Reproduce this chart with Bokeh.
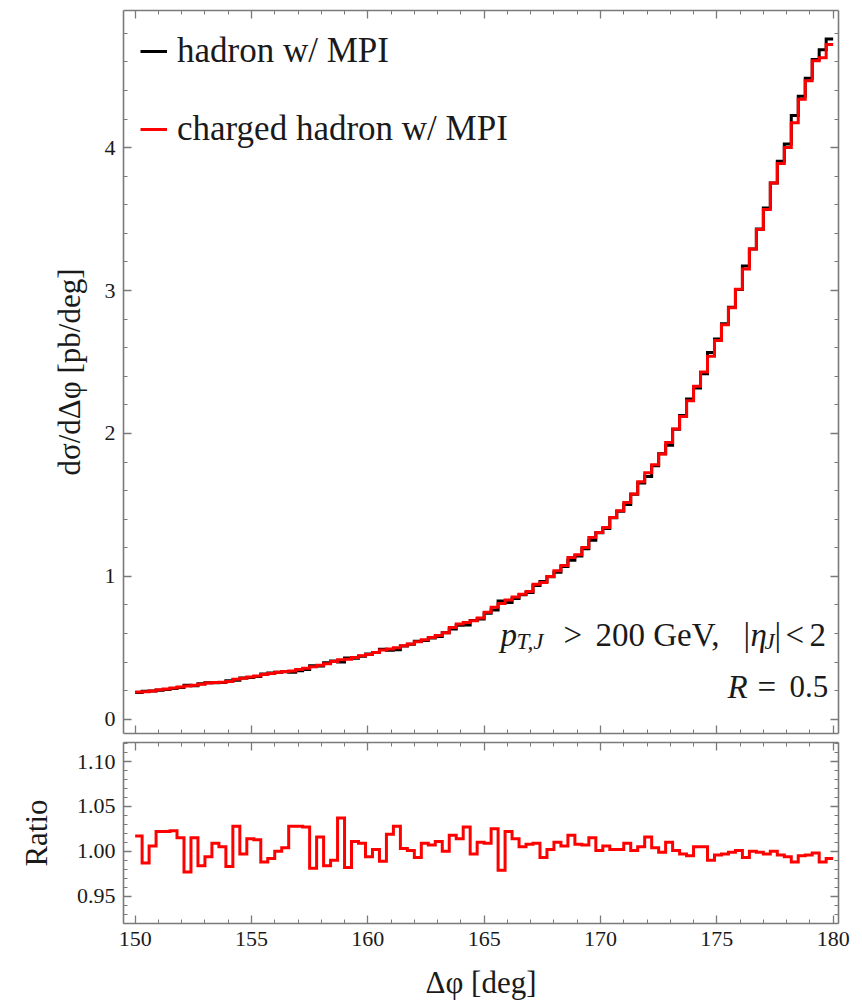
from bokeh.plotting import figure
from bokeh.models import (Range1d, LinearAxis, SingleIntervalTicker, PrintfTickFormatter,
                          CustomJSTickFormatter, Legend, LegendItem, Label)
from bokeh.layouts import column
from bokeh.embed import file_html
from bokeh.resources import INLINE

# ---------------- data ----------------
bin_start = 150.0
bin_width = 0.3

# charged hadron w/ MPI, d sigma / d Delta phi [pb/deg], 100 bins of 0.3 deg
charged = [
    0.191, 0.193, 0.198, 0.207, 0.212, 0.219, 0.226, 0.233, 0.238, 0.245,
    0.254, 0.257, 0.259, 0.264, 0.280, 0.287, 0.296, 0.303, 0.313, 0.320,
    0.329, 0.334, 0.338, 0.348, 0.357, 0.367, 0.378, 0.388, 0.404, 0.416,
    0.420, 0.432, 0.444, 0.453, 0.467, 0.484, 0.491, 0.500, 0.514, 0.526,
    0.542, 0.556, 0.572, 0.586, 0.605, 0.642, 0.666, 0.677, 0.689, 0.708,
    0.748, 0.783, 0.810, 0.835, 0.856, 0.875, 0.894, 0.945, 0.957, 0.999,
    1.039, 1.076, 1.132, 1.151, 1.202, 1.272, 1.307, 1.342, 1.412, 1.459,
    1.517, 1.576, 1.662, 1.725, 1.781, 1.856, 1.937, 2.031, 2.119, 2.229,
    2.330, 2.430, 2.540, 2.650, 2.760, 2.880, 3.010, 3.150, 3.290, 3.428,
    3.567, 3.753, 3.889, 4.002, 4.174, 4.338, 4.468, 4.608, 4.629, 4.722,
]

# ratio charged / hadron
ratio = [
    1.017, 0.987, 1.006, 1.022, 1.022, 1.023, 1.015, 0.977, 1.015, 0.984,
    0.994, 1.009, 1.005, 0.983, 1.028, 0.997, 1.014, 1.013, 0.988, 0.992,
    1.000, 1.004, 1.028, 1.028, 1.027, 0.981, 1.016, 0.984, 0.990, 1.037,
    0.982, 1.011, 1.009, 0.994, 1.002, 0.989, 1.019, 1.028, 1.003, 1.001,
    0.993, 1.009, 1.007, 1.011, 1.000, 1.018, 1.014, 1.027, 0.997, 1.010,
    1.009, 1.025, 0.979, 1.022, 1.014, 1.005, 1.008, 1.009, 0.993, 1.002,
    1.010, 1.006, 1.018, 1.008, 1.007, 1.015, 1.001, 1.006, 1.002, 1.002,
    1.009, 1.001, 1.005, 1.016, 1.004, 0.999, 1.010, 1.001, 0.997, 0.995,
    1.005, 1.005, 0.990, 0.996, 0.997, 0.999, 1.001, 0.993, 1.000, 0.999,
    0.997, 1.000, 0.996, 0.994, 0.988, 0.995, 0.996, 0.998, 0.988, 0.992,
]

hadron = [c / r for c, r in zip(charged, ratio)]

x_ticks_interval = 5
legend_labels = ["hadron w/ MPI", "charged hadron w/ MPI"]

# ---------------- helpers ----------------
n = len(charged)
edges = [bin_start + bin_width * i for i in range(n + 1)]
xs = edges
ys_h = hadron + [hadron[-1]]
ys_c = charged + [charged[-1]]
ys_r = ratio + [ratio[-1]]

FONT = "Liberation Serif"
AX = "#7a7a7a"
TXT = "#1a1a1a"


def style_axis(ax, interval, show_labels, fmt=None):
    ax.ticker = SingleIntervalTicker(interval=interval, num_minor_ticks=5)
    ax.axis_line_color = AX
    ax.axis_line_width = 1.6
    ax.major_tick_line_color = AX
    ax.minor_tick_line_color = AX
    ax.major_tick_line_width = 1.3
    ax.minor_tick_line_width = 1.0
    ax.major_tick_in = 8
    ax.major_tick_out = 0
    ax.minor_tick_in = 4
    ax.minor_tick_out = 0
    ax.major_label_text_font = FONT
    ax.axis_label_text_font = FONT
    ax.axis_label_text_font_style = "normal"
    ax.axis_label_text_color = TXT
    if show_labels:
        if fmt is not None:
            ax.formatter = fmt
        ax.major_label_text_color = TXT
        ax.major_label_text_font_size = "22px"
        ax.major_label_standoff = 8
    else:
        ax.formatter = CustomJSTickFormatter(code="return ''")
        ax.major_label_text_color = None
        ax.major_label_text_font_size = "1px"
        ax.major_label_standoff = 0


x_range = Range1d(149.5, 180.23)

# ---------------- main panel ----------------
p1 = figure(width=854, height=738, x_range=x_range, y_range=Range1d(-0.10, 4.96),
            output_backend="svg", toolbar_location=None,
            min_border_left=123, min_border_right=16, min_border_top=10, min_border_bottom=5)
p1.outline_line_color = None
p1.grid.grid_line_color = None
p1.background_fill_color = "white"

style_axis(p1.xaxis[0], x_ticks_interval, False)
style_axis(p1.yaxis[0], 1, True)
p1.yaxis[0].axis_label = "dσ/dΔφ [pb/deg]"
p1.yaxis[0].axis_label_text_font_size = "31px"
p1.yaxis[0].axis_label_standoff = 15

top1 = LinearAxis()
style_axis(top1, x_ticks_interval, False)
p1.add_layout(top1, "above")
right1 = LinearAxis()
style_axis(right1, 1, False)
p1.add_layout(right1, "right")

r_h = p1.step(xs, ys_h, mode="after", line_color="black", line_width=3, line_join="miter")
r_c = p1.step(xs, ys_c, mode="after", line_color="#ff0000", line_width=3, line_join="miter")

legend = Legend(items=[LegendItem(label=legend_labels[0], renderers=[r_h]),
                       LegendItem(label=legend_labels[1], renderers=[r_c])],
                location="top_left", margin=17, padding=7, spacing=30,
                glyph_height=48, label_height=48, glyph_width=27, label_standoff=10,
                label_text_font=FONT, label_text_font_size="35px", label_text_color=TXT,
                border_line_color=None, background_fill_alpha=0)
p1.add_layout(legend)

# annotation text pieces (screen units relative to the frame)
pieces = [
    ("p", 377, 99, "33px", "italic"),
    ("T,J", 393, 92, "23px", "italic"),
    (">", 440, 99, "33px", "normal"),
    ("200 GeV,", 472, 99, "33px", "normal"),
    ("|", 620, 99, "33px", "normal"),
    ("η", 627, 99, "33px", "italic"),
    ("J", 641, 92, "23px", "italic"),
    ("|", 651, 99, "33px", "normal"),
    ("<", 662, 99, "33px", "normal"),
    ("2", 686, 99, "33px", "normal"),
    ("R", 604, 47, "33px", "italic"),
    ("=", 634, 47, "33px", "normal"),
    ("0.5", 666, 47, "31px", "normal"),
]
for t, x, y, fs, st in pieces:
    p1.add_layout(Label(x=x, y=y, x_units="screen", y_units="screen", text=t,
                        text_font=FONT, text_font_size=fs, text_font_style=st,
                        text_color=TXT, text_baseline="alphabetic"))

# ---------------- ratio panel ----------------
p2 = figure(width=854, height=266, x_range=x_range, y_range=Range1d(0.9196, 1.1212),
            output_backend="svg", toolbar_location=None,
            min_border_left=123, min_border_right=16, min_border_top=4, min_border_bottom=81)
p2.outline_line_color = None
p2.grid.grid_line_color = None

style_axis(p2.xaxis[0], x_ticks_interval, True)
p2.xaxis[0].axis_label = "Δφ [deg]"
p2.xaxis[0].axis_label_text_font_size = "31px"
p2.xaxis[0].axis_label_standoff = 16
style_axis(p2.yaxis[0], 0.05, True, PrintfTickFormatter(format="%.2f"))
p2.yaxis[0].axis_label = "Ratio"
p2.yaxis[0].axis_label_text_font_size = "31px"
p2.yaxis[0].axis_label_standoff = 20

top2 = LinearAxis()
style_axis(top2, x_ticks_interval, False)
p2.add_layout(top2, "above")
right2 = LinearAxis()
style_axis(right2, 0.05, False)
p2.add_layout(right2, "right")

p2.step(xs, ys_r, mode="after", line_color="#ff0000", line_width=3, line_join="miter")

layout = column(p1, p2)
open("out.html", "w").write(file_html(layout, INLINE))
